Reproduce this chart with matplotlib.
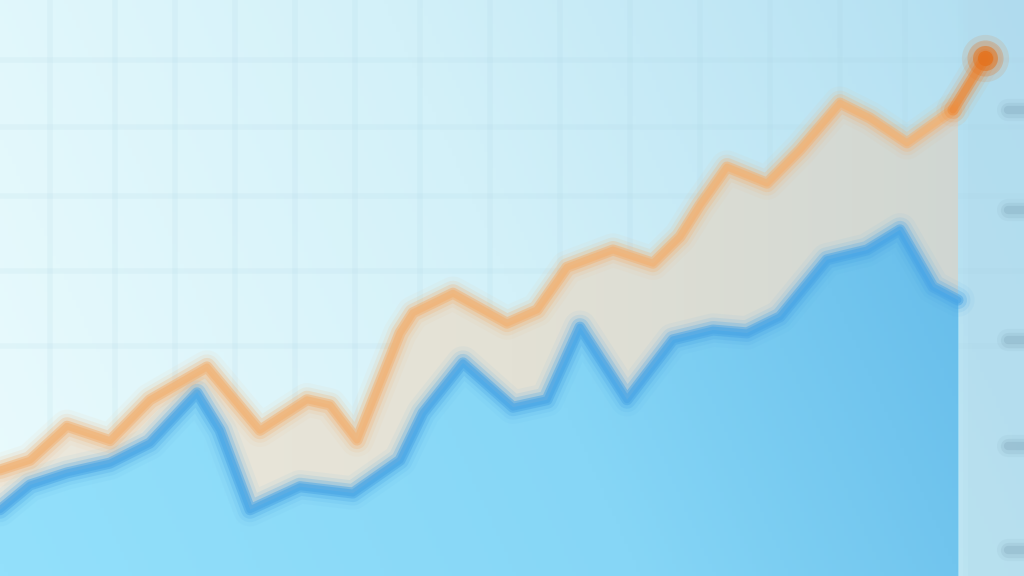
import numpy as np
import matplotlib
matplotlib.use("Agg")
import matplotlib.pyplot as plt
from matplotlib.colors import LinearSegmentedColormap

# ---- data ----
orange_x = [0, 3, 6.7, 11, 15, 20.7, 26, 30.7, 33, 35.7, 40, 41.3, 45.3, 50.7, 53.7,
            56.7, 61.3, 65.3, 68, 70, 72.7, 76.7, 80, 84, 87, 90.7, 95.3, 98.5]
orange_y = [18.4, 20.1, 26.0, 23.5, 30.6, 36.3, 25.3, 30.6, 29.7, 23.6, 42.2, 45.7,
            49.1, 43.9, 46.2, 53.6, 56.6, 54.3, 58.9, 64.4, 71.0, 68.2, 74.0, 82.1,
            79.5, 75.2, 80.9, 89.9]
blue_x = [0, 3, 6.7, 11, 15, 19.7, 22, 25, 30, 35.3, 40, 42.3, 46.3, 51.3, 54.7, 58,
          62.7, 67.3, 71.3, 74.7, 78, 82.7, 86.7, 90, 93.3, 95.8]
blue_y = [11.5, 15.8, 17.9, 19.6, 23.1, 31.8, 25.3, 11.5, 15.5, 14.4, 20.1, 28.3,
          37.0, 29.3, 30.6, 43.2, 30.6, 41.0, 42.7, 42.2, 45.0, 54.9, 56.6, 60.1,
          50.2, 47.9]
grid_x = [5, 11.5, 17.5, 23.5, 29.5, 35.5, 42, 49, 56, 63, 70, 77, 84, 90.5]
grid_y = [40, 53, 66, 78, 89.5]
tick_y = [80.9, 63.5, 41.0, 22.6, 4.5]

X0, X1, Y0, Y1 = 0, 102.4, 0, 100
fig = plt.figure(figsize=(10.24, 5.76), dpi=100)
ax = fig.add_axes([0, 0, 1, 1])
ax.set_xlim(X0, X1)
ax.set_ylim(Y0, Y1)
ax.axis("off")

# background gradient
gx, gy = np.meshgrid(np.linspace(0, 1, 256), np.linspace(0, 1, 144))
bg_cmap = LinearSegmentedColormap.from_list("bg", ["#eafbfd", "#d3f1f9", "#b0def1"])
ax.imshow(0.8 * gx + 0.2 * gy, extent=[X0, X1, Y0, Y1], origin="lower",
          cmap=bg_cmap, aspect="auto", zorder=0)
# right panel with soft edge
for x0, a in [(95.8, 0.15), (96.3, 0.2), (96.8, 0.25)]:
    ax.axvspan(x0, X1, color="#b2dbec", alpha=a, lw=0, zorder=0.5)

# faint grid
for gxv in grid_x:
    ax.axvline(gxv, color="#a9d2e2", lw=4, alpha=0.12, zorder=1)
for gyv in grid_y:
    ax.axhline(gyv, color="#a9d2e2", lw=4, alpha=0.12, zorder=1)

# beige band between lines
ox = np.array(orange_x)
oy = np.array(orange_y)
m = ox <= 96
px = np.concatenate([ox[m], [blue_x[-1]], blue_x[::-1]])
py = np.concatenate([oy[m], [82.5], blue_y[::-1]])
band = ax.fill(px, py, color="#e6e3d6", lw=0, zorder=2)[0]
band_cmap = LinearSegmentedColormap.from_list("band", ["#ece8dc", "#e3e1d5", "#cdd5d2"])
im_b = ax.imshow(gx, extent=[X0, X1, Y0, Y1], origin="lower", cmap=band_cmap,
                 aspect="auto", zorder=2.1)
im_b.set_clip_path(band)

# blue area with gradient
area = ax.fill_between(blue_x, blue_y, 0, color="#7fd2f5", lw=0, zorder=3)
blue_cmap = LinearSegmentedColormap.from_list("bl", ["#93e0fb", "#86d6f6", "#5cb4e6"])
im = ax.imshow(0.8 * gx + 0.2 * gy, extent=[X0, X1, Y0, Y1], origin="lower",
               cmap=blue_cmap, aspect="auto", zorder=3.1)
im.set_clip_path(area.get_paths()[0], transform=ax.transData)

# soft (blurred-looking) lines
def soft_line(x, y, color, z):
    for lw, a in [(24, 0.06), (18, 0.12), (13, 0.25), (8, 0.5), (5, 0.6)]:
        ax.plot(x, y, color=color, lw=lw, alpha=a, solid_joinstyle="round",
                solid_capstyle="round", zorder=z)

soft_line(blue_x, blue_y, "#4aa6e6", 4)
soft_line(orange_x[:-1], orange_y[:-1], "#f2b172", 5)
soft_line(orange_x[-2:], orange_y[-2:], "#ec8a3a", 5)
for ms, a in [(34, 0.12), (26, 0.25), (18, 0.5), (11, 0.8)]:
    ax.plot(orange_x[-1], orange_y[-1], marker="o", ms=ms, color="#e4731f",
            alpha=a, mec="none", zorder=6)

# blurred tick marks on the right edge
for ty in tick_y:
    for lw, a in [(16, 0.06), (11, 0.1), (6, 0.15)]:
        ax.plot([100.8, 102.4], [ty, ty], color="#5e7f96", lw=lw, alpha=a,
                solid_capstyle="round", zorder=6)

fig.savefig("out.png", dpi=100)
